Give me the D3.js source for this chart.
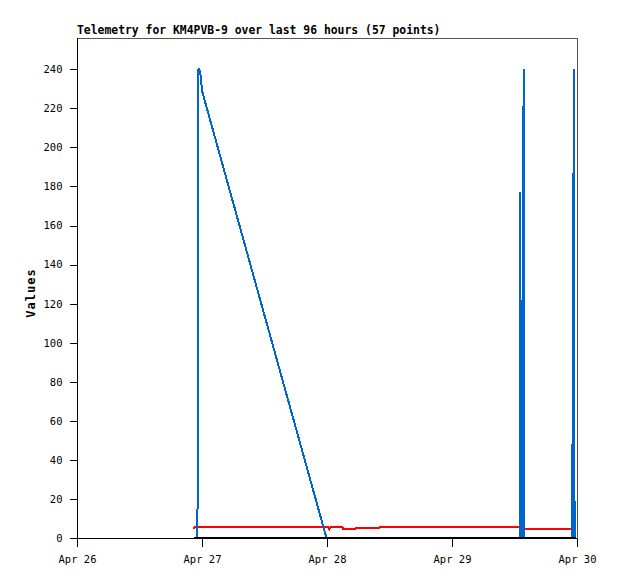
<!DOCTYPE html>
<html>
<head>
<meta charset="utf-8">
<script src="https://cdn.jsdelivr.net/npm/d3@7"></script>
<style>
  body { margin: 0; background: #fff; }
  svg { display: block; }
  text { font-family: "DejaVu Sans Mono", "Liberation Mono", monospace; }
</style>
</head>
<body>
<script>
// telemetry timestamps (UTC) and the three channels
var times = [
  "2024-04-26T22:30", "2024-04-26T22:36", "2024-04-26T23:08", "2024-04-26T23:12",
  "2024-04-26T23:20", "2024-04-26T23:29", "2024-04-26T23:43", "2024-04-26T23:54",
  "2024-04-27T00:06",
  "2024-04-27T23:54", "2024-04-28T00:12", "2024-04-28T00:27", "2024-04-28T00:42",
  "2024-04-28T03:00", "2024-04-28T03:06", "2024-04-28T05:24", "2024-04-28T05:30",
  "2024-04-28T10:06", "2024-04-28T10:12",
  "2024-04-29T13:01", "2024-04-29T13:07", "2024-04-29T13:14", "2024-04-29T13:24",
  "2024-04-29T13:31", "2024-04-29T13:45", "2024-04-29T13:54",
  "2024-04-29T22:57", "2024-04-29T23:02", "2024-04-29T23:09", "2024-04-29T23:23",
  "2024-04-29T23:32", "2024-04-29T23:44"
];
var blueValues = [
  0, 0, 0, 121,
  240, 240, 237, 232,
  228,
  0, 0, 0, 0,
  0, 0, 0, 0,
  0, 0,
  0, 177, 0, 120,
  0, 240, 0,
  0, 48, 0, 240,
  0, 0
];
var redValues = [
  4.6, 5.8, 5.8, 5.8,
  5.8, 5.8, 5.8, 5.8,
  5.8,
  5.8, 5.8, 4.3, 5.6,
  5.6, 4.7, 4.7, 5.1,
  5.1, 5.8,
  5.8, 5.8, 5.8, 5.8,
  5.8, 4.8, 4.8,
  4.8, 4.8, 4.8, 4.8,
  4.8, 4.8
];
var blackValues = times.map(function() { return 0; });
var yTicks = [0, 20, 40, 60, 80, 100, 120, 140, 160, 180, 200, 220, 240];

var parseTime = d3.utcParse("%Y-%m-%dT%H:%M");

window.onload = function() {
  drawChart();
};

function drawChart() {
  var width = 618, height = 579;
  var margin = {top: 38, right: 41, bottom: 41, left: 77};

  var svg = d3.select("body")
    .append("svg")
    .attr("width", width)
    .attr("height", height);

  var xScale = d3.scaleUtc()
    .domain([parseTime("2024-04-26T00:00"), parseTime("2024-04-30T00:00")])
    .range([margin.left, width - margin.right]);

  var yScale = d3.scaleLinear()
    .domain([0, 256])
    .range([height - margin.bottom, margin.top]);

  // frame round the plot
  svg.append("rect")
    .attr("x", margin.left + 0.5)
    .attr("y", margin.top + 0.5)
    .attr("width", width - margin.left - margin.right)
    .attr("height", height - margin.top - margin.bottom)
    .attr("fill", "none")
    .attr("stroke", "#555")
    .attr("shape-rendering", "crispEdges");

  function series(values) {
    return times.map(function(t, i) { return {t: parseTime(t), v: values[i]}; });
  }

  var line = d3.line()
    .x(function(d) { return xScale(d.t); })
    .y(function(d) { return yScale(d.v); });

  var lines = [
    {values: redValues, color: "#ff0000"},
    {values: blueValues, color: "#0066cc"},
    {values: blackValues, color: "#000000"}
  ];

  lines.forEach(function(s) {
    svg.append("path")
      .datum(series(s.values))
      .attr("fill", "none")
      .attr("stroke", s.color)
      .attr("stroke-width", 2)
      .attr("shape-rendering", "crispEdges")
      .attr("d", line);
  });

  // y axis
  var yAxis = svg.append("g")
    .attr("transform", "translate(" + (margin.left + 0.5) + ",0)")
    .call(d3.axisLeft(yScale).tickValues(yTicks).tickSize(8).tickPadding(7))
  yAxis.selectAll("path, line").attr("stroke", "#000").attr("shape-rendering", "crispEdges");
  yAxis.select(".domain").attr("d", "M0," + margin.top + "V" + (height - margin.bottom));
  yAxis.selectAll("text")
    .style("font-family", "'DejaVu Sans Mono', monospace")
    .style("font-size", "10.5px")
    .attr("fill", "#000");

  // x axis
  var xAxis = svg.append("g")
    .attr("transform", "translate(0," + (height - margin.bottom + 0.5) + ")")
    .call(d3.axisBottom(xScale)
      .ticks(d3.utcDay.every(1))
      .tickFormat(d3.utcFormat("%b %d"))
      .tickSize(8)
      .tickPadding(9));
  xAxis.selectAll("path, line").attr("stroke", "#000").attr("shape-rendering", "crispEdges");
  xAxis.select(".domain").attr("d", "M" + margin.left + ",0H" + (width - margin.right));
  xAxis.selectAll("text")
    .style("font-family", "'DejaVu Sans Mono', monospace")
    .style("font-size", "10.5px")
    .attr("fill", "#000");

  // title
  svg.append("text")
    .attr("x", margin.left)
    .attr("y", 34)
    .style("font-size", "11.4px")
    .style("font-weight", "bold")
    .text("Telemetry for KM4PVB-9 over last 96 hours (57 points)");

  // y label
  svg.append("text")
    .attr("transform", "translate(35,293) rotate(-90)")
    .style("text-anchor", "middle")
    .style("font-size", "12px")
    .style("font-weight", "bold")
    .style("letter-spacing", "1px")
    .text("Values");
}
</script>
</body>
</html>
